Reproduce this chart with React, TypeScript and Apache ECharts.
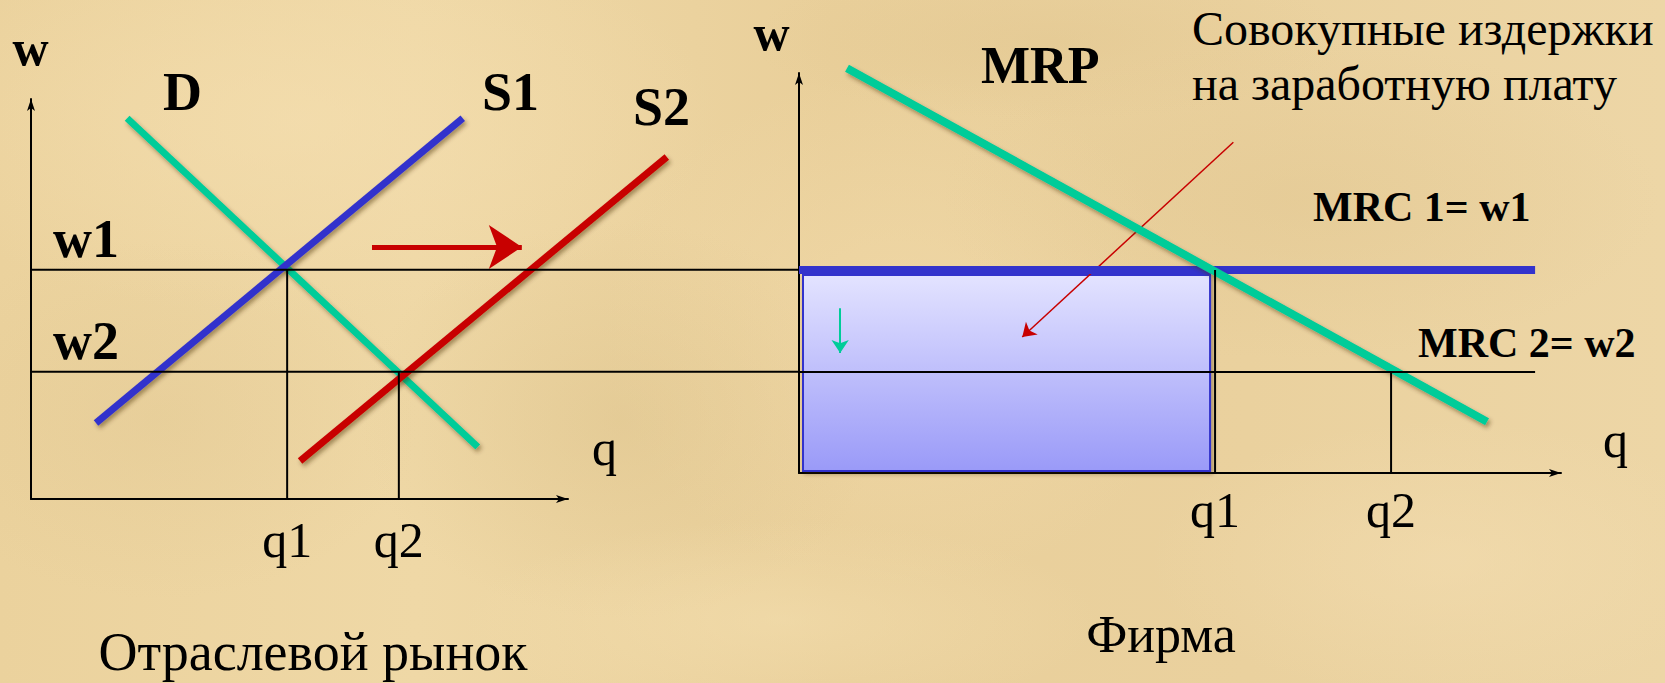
import React, { useEffect, useRef } from "react";
import * as echarts from "echarts";

// ---------- Left chart: industry labour market ----------
const leftQTicks = [47.7, 68.5];
const leftQLabels = ["q1", "q2"];
const leftWLevels = [57.3, 31.8];
const leftWLabels = ["w1", "w2"];
const demandX = [17.9, 83.2];
const demandY = [95.2, 13];
const supply1X = [12.1, 80.4];
const supply1Y = [19, 95.2];
const supply2X = [50.1, 118.4];
const supply2Y = [9.5, 85.5];
const shiftArrowX = [63.5, 91.4];
const shiftArrowY = [63, 63];
const leftGuideEnd = 143; // w-lines reach the firm chart's vertical axis

// ---------- Right chart: the firm ----------
const firmQTicks = [54.6, 77.7];
const firmQLabels = ["q1", "q2"];
const firmWLevels = [50.75, 25.25];
const mrpX = [6.3, 90.3];
const mrpY = [101.2, 12.8];
const mrcEnd = 96.6;
const costArrowX = [57, 29.3];
const costArrowY = [82.7, 34];
const dropArrowX = [5.4, 5.4];
const dropArrowY = [41.2, 30];

const SERIF = "'Liberation Serif', 'Times New Roman', Times, serif";
const TEAL = "#00CC99";
const BLUE = "#3333CC";
const RED = "#C80000";

// grid indices: 0/1 = visible axes frames, 2/3 = data grids (same scales, hidden axes, wider room)
const LD = 2;
const RD = 3;

const shadow = {
  shadowColor: "rgba(70,45,0,0.45)",
  shadowBlur: 4,
  shadowOffsetX: 2,
  shadowOffsetY: 3,
};

function seg(xs: number[], ys: number[]) {
  return xs.map((x, i) => [x, ys[i]]);
}

function lineSeries(
  data: number[][],
  grid: number,
  color: string,
  width: number,
  withShadow: boolean
) {
  return {
    type: "line",
    xAxisIndex: grid,
    yAxisIndex: grid,
    data,
    showSymbol: false,
    symbol: "none",
    silent: true,
    clip: false,
    lineStyle: { color, width, cap: "butt", ...(withShadow ? shadow : {}) },
  };
}

function arrowSeries(
  xs: number[],
  ys: number[],
  grid: number,
  color: string,
  width: number,
  size: number[]
) {
  return {
    type: "lines",
    coordinateSystem: "cartesian2d",
    xAxisIndex: grid,
    yAxisIndex: grid,
    silent: true,
    symbol: ["none", "arrow"],
    symbolSize: size,
    clip: false,
    data: [{ coords: seg(xs, ys) }],
    lineStyle: { color, width, opacity: 1, curveness: 0 },
    itemStyle: { color },
  };
}

function txt(
  text: string,
  x: number,
  baseline: number,
  size: number,
  bold: boolean,
  align: string = "left"
) {
  return {
    type: "text",
    x,
    y: baseline - 0.34 * size,
    z: 100,
    silent: true,
    style: {
      text,
      fontSize: size,
      fontFamily: SERIF,
      fontWeight: bold ? "bold" : "normal",
      fill: "#000",
      align,
      verticalAlign: "middle",
    },
  };
}

function blob(cx: number, cy: number, rx: number, ry: number, color: string) {
  return {
    type: "ellipse",
    silent: true,
    z: -10,
    shape: { cx, cy, rx, ry },
    style: {
      fill: new echarts.graphic.RadialGradient(0.5, 0.5, 0.5, [
        { offset: 0, color },
        { offset: 1, color: color.replace(/[\d.]+\)$/, "0)") },
      ]),
    },
  };
}

function frameAxis(grid: number) {
  return {
    gridIndex: grid,
    type: "value",
    min: 0,
    max: 100,
    axisLine: {
      show: true,
      onZero: false,
      symbol: ["none", "arrow"],
      symbolSize: [6, 12],
      lineStyle: { color: "#000", width: 2 },
    },
    axisTick: { show: false },
    splitLine: { show: false },
  };
}

function dataAxis(grid: number, max: number) {
  return { gridIndex: grid, type: "value", min: 0, max, show: false };
}

export default function App() {
  const ref = useRef<HTMLDivElement>(null);

  useEffect(() => {
    document.body.style.margin = "0";
    document.body.style.overflow = "hidden";
    if (!ref.current) return;
    const chart = echarts.init(ref.current, undefined, { renderer: "svg" });

    const option: any = {
      animation: false,
      backgroundColor: new echarts.graphic.LinearGradient(0, 0, 1, 0, [
        { offset: 0, color: "#EBD29D" },
        { offset: 0.25, color: "#EFD8A6" },
        { offset: 0.5, color: "#E9CF9A" },
        { offset: 0.75, color: "#EAD19E" },
        { offset: 1, color: "#EDD6A6" },
      ]),
      grid: [
        { left: 31, top: 99, width: 537, height: 400 },
        { left: 799, top: 73, width: 762, height: 400 },
        { left: 31, top: 99, width: 1074, height: 400 },
        { left: 799, top: 33, width: 762, height: 440 },
      ],
      xAxis: [
        {
          ...frameAxis(0),
          axisLabel: {
            customValues: leftQTicks,
            formatter: (v: number) => leftQLabels[leftQTicks.indexOf(v)] ?? "",
            fontSize: 50,
            fontFamily: SERIF,
            color: "#000",
            margin: 16,
          },
        },
        {
          ...frameAxis(1),
          axisLabel: {
            customValues: firmQTicks,
            formatter: (v: number) => firmQLabels[firmQTicks.indexOf(v)] ?? "",
            fontSize: 50,
            fontFamily: SERIF,
            color: "#000",
            margin: 12,
          },
        },
        dataAxis(LD, 200),
        dataAxis(RD, 100),
      ],
      yAxis: [
        {
          ...frameAxis(0),
          axisLabel: {
            customValues: leftWLevels,
            formatter: (v: number) => leftWLabels[leftWLevels.indexOf(v)] ?? "",
            inside: true,
            fontSize: 54,
            fontWeight: "bold",
            fontFamily: SERIF,
            color: "#000",
            margin: 22,
            verticalAlign: "bottom",
            padding: [0, 0, 4, 0],
          },
        },
        { ...frameAxis(1), axisLabel: { show: false } },
        dataAxis(LD, 100),
        dataAxis(RD, 110),
      ],
      graphic: [
        blob(300, 120, 420, 200, "rgba(246,224,178,0.55)"),
        blob(900, 330, 300, 260, "rgba(245,222,175,0.5)"),
        blob(620, 420, 260, 200, "rgba(214,188,132,0.35)"),
        blob(160, 420, 260, 180, "rgba(220,194,140,0.3)"),
        blob(1300, 200, 360, 160, "rgba(220,192,136,0.3)"),
        blob(1450, 560, 300, 140, "rgba(244,222,178,0.5)"),
        blob(780, 620, 320, 100, "rgba(246,226,180,0.45)"),
        blob(1050, 40, 300, 80, "rgba(220,192,136,0.3)"),
        txt("w", 30.5, 65, 50, true, "center"),
        txt("D", 163, 110, 54, true),
        txt("S1", 482, 110, 54, true),
        txt("S2", 633, 125, 54, true),
        txt("q", 592, 465, 50, false),
        txt("Отраслевой рынок", 313, 670, 54, false, "center"),
        txt("w", 771.5, 50, 50, true, "center"),
        txt("MRP", 981, 83, 52, true),
        txt("Совокупные издержки", 1192, 45, 48, false),
        txt("на заработную плату", 1192, 100, 48, false),
        txt("MRC 1= w1", 1313, 221, 42, true),
        txt("MRC 2= w2", 1418, 357, 42, true),
        txt("q", 1603, 457, 50, false),
        txt("Фирма", 1161, 652, 52, false, "center"),
      ],
      series: [
        // ----- left chart -----
        lineSeries(seg(demandX, demandY), LD, TEAL, 7, true),
        lineSeries(seg(supply1X, supply1Y), LD, BLUE, 7, true),
        lineSeries(seg(supply2X, supply2Y), LD, RED, 7, true),
        lineSeries([[0, leftWLevels[0]], [leftGuideEnd, leftWLevels[0]]], LD, "#000", 2, false),
        lineSeries([[0, leftWLevels[1]], [leftGuideEnd, leftWLevels[1]]], LD, "#000", 2, false),
        lineSeries([[leftQTicks[0], 0], [leftQTicks[0], leftWLevels[0]]], LD, "#000", 2, false),
        lineSeries([[leftQTicks[1], 0], [leftQTicks[1], leftWLevels[1]]], LD, "#000", 2, false),
        arrowSeries(shiftArrowX, shiftArrowY, LD, RED, 5, [17, 33]),
        // ----- right chart -----
        {
          type: "custom",
          xAxisIndex: RD,
          yAxisIndex: RD,
          silent: true,
          clip: false,
          data: [[0, 0, firmQTicks[0], firmWLevels[0]]],
          renderItem: (_p: any, api: any) => {
            const a = api.coord([api.value(0), api.value(1)]);
            const b = api.coord([api.value(2), api.value(3)]);
            return {
              type: "rect",
              shape: {
                x: a[0] + 4,
                y: b[1] + 5,
                width: b[0] - a[0] - 9,
                height: a[1] - b[1] - 7,
              },
              style: {
                fill: new echarts.graphic.LinearGradient(0, 0, 0, 1, [
                  { offset: 0, color: "#E3E3FF" },
                  { offset: 1, color: "#9A9AF8" },
                ]),
                stroke: BLUE,
                lineWidth: 2,
                shadowColor: "rgba(60,40,0,0.4)",
                shadowBlur: 4,
                shadowOffsetX: 2,
                shadowOffsetY: 2,
              },
            };
          },
        },
        lineSeries([[0, firmWLevels[0]], [mrcEnd, firmWLevels[0]]], RD, BLUE, 8, false),
        lineSeries(seg(mrpX, mrpY), RD, TEAL, 8, true),
        lineSeries([[0, firmWLevels[1]], [mrcEnd, firmWLevels[1]]], RD, "#000", 2, false),
        lineSeries([[firmQTicks[0], 0], [firmQTicks[0], firmWLevels[0]]], RD, "#000", 2, false),
        lineSeries([[firmQTicks[1], 0], [firmQTicks[1], firmWLevels[1]]], RD, "#000", 2, false),
        arrowSeries(costArrowX, costArrowY, RD, RED, 1.5, [7, 13]),
        arrowSeries(dropArrowX, dropArrowY, RD, TEAL, 2, [7, 13]),
      ],
    };

    chart.setOption(option);
    return () => chart.dispose();
  }, []);

  return <div ref={ref} style={{ width: 1665, height: 683 }} />;
}
